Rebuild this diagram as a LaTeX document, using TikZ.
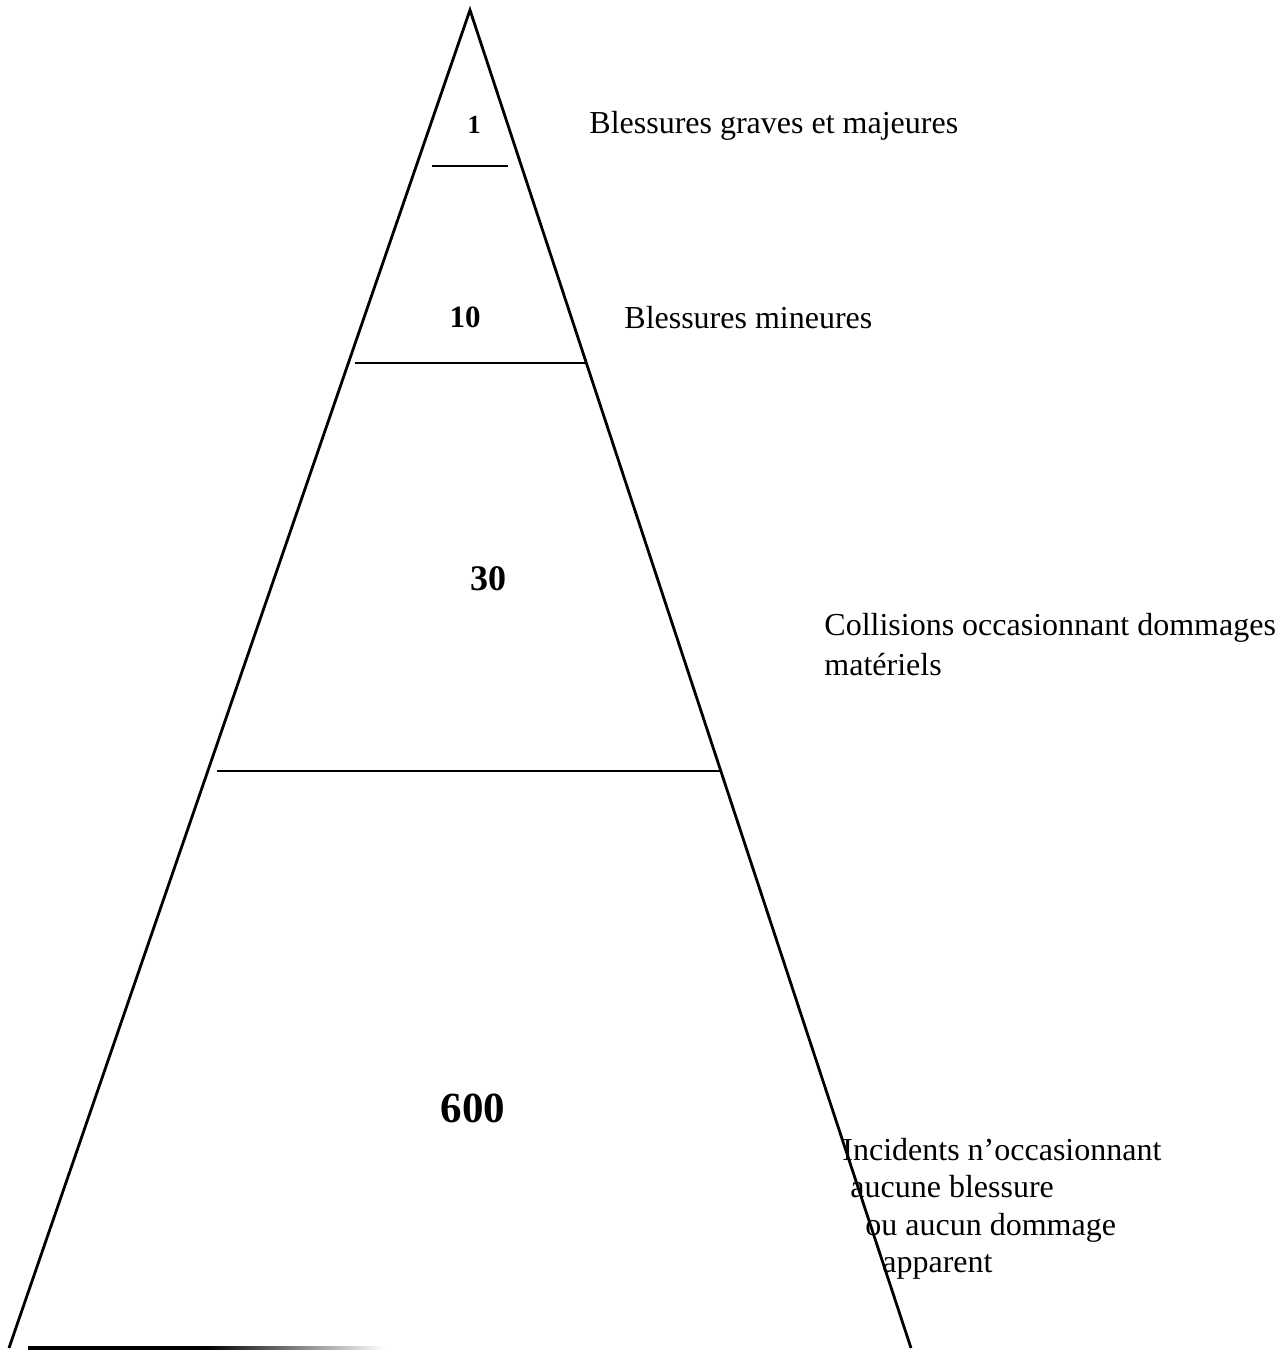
\documentclass[tikz,border=0pt]{standalone}
\usepackage{fontspec}
\setmainfont{Liberation Serif}
\usetikzlibrary{positioning}

\begin{document}
\begin{tikzpicture}[x=1pt, y=-1pt, line width=2.8pt,
    num/.style = {font=\bfseries, inner sep=0pt, anchor=base},
    lbl/.style = {font=\fontsize{32}{38}\selectfont, inner sep=0pt, anchor=base west, align=left}]
  \useasboundingbox (0,0) rectangle (1288,1350);
  % corners of the pyramid
  \coordinate (top) at (470,10);
  \coordinate (lfoot) at (9,1348);
  \coordinate (rfoot) at (911,1348);
  \draw (lfoot) -- (top) -- (rfoot);

  % level lines
  \coordinate (l1a) at (432,166);  \coordinate (l1b) at (508,166);
  \coordinate (l2a) at (355,363);  \coordinate (l2b) at (586,363);
  \coordinate (l3a) at (217,771);  \coordinate (l3b) at (721,771);
  \draw (l1a) -- (l1b);
  \draw (l2a) -- (l2b);
  \draw (l3a) -- (l3b);
  % base line, fading out
  \coordinate (b0) at (28,1346);
  \coordinate (b1) at (385,1349);
  \shade[left color=black, right color=white, middle color=black] (b0) rectangle (b1);

  % counts
  \node[num, font=\bfseries\fontsize{26}{30}\selectfont] (n_1) at (474,133) {1};
  \node[num, font=\bfseries\fontsize{31}{34}\selectfont] (n_10) at (465,327) {10};
  \node[num, font=\bfseries\fontsize{36}{40}\selectfont] (n_30) at (488,590) {30};
  \node[num, font=\bfseries\fontsize{43}{48}\selectfont] (n_600) at (473,1122) {600};

  % descriptions
  \node[lbl] (d_1) at (588,133) {Blessures graves et majeures};
  \node[lbl] (d_10) at (623,328) {Blessures mineures};
  \node[lbl] (d_30) at (823,635) {Collisions occasionnant dommages};
  \node[lbl] (d_30b) at (823,675) {matériels};
  \node[lbl] (d_600) at (841,1160) {Incidents n’occasionnant};
  \node[lbl] (d_600b) at (849,1197) {aucune blessure};
  \node[lbl] (d_600c) at (864,1235) {ou aucun dommage};
  \node[lbl] (d_600d) at (881,1272) {apparent};
\end{tikzpicture}
\end{document}
